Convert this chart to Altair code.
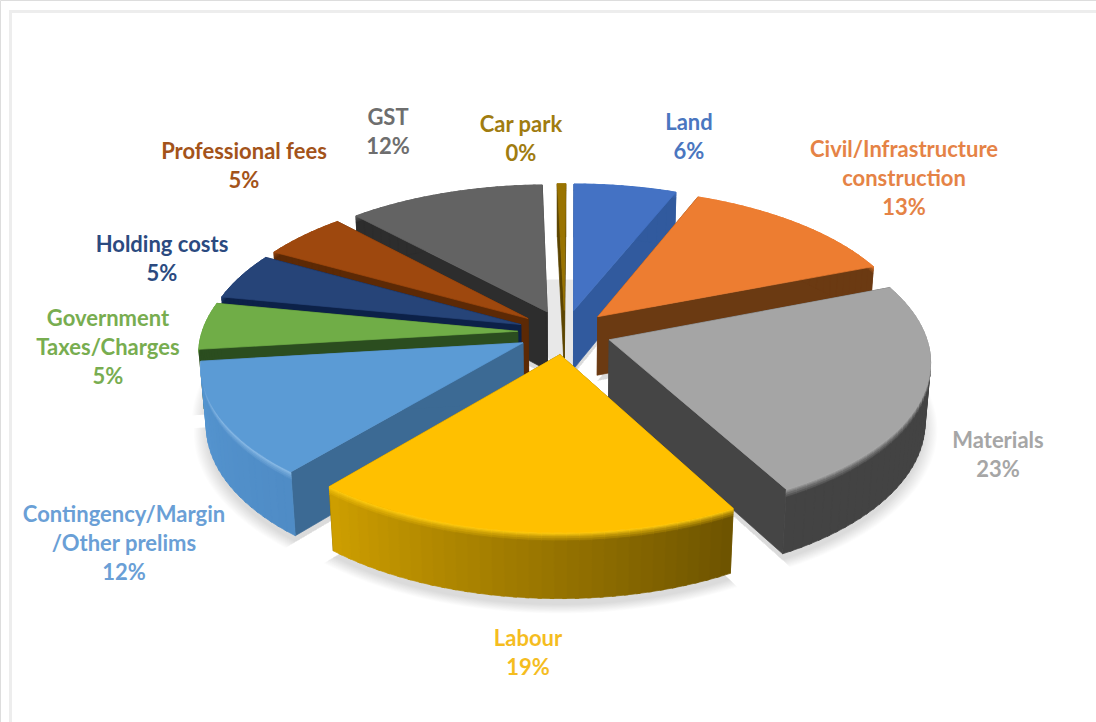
import altair as alt
import numpy as np

# Cost breakdown, in percent of the total, clockwise from twelve o'clock
categories = ["Land", "Civil/Infrastructure construction", "Materials", "Labour",
              "Contingency/Margin /Other prelims", "Government Taxes/Charges",
              "Holding costs", "Professional fees", "GST", "Car park"]
values = [6, 13, 23, 19, 12, 5, 5, 5, 11.5, 0.49]

# Label wording, broken over lines
label_lines = [["Land"], ["Civil/Infrastructure", "construction"], ["Materials"], ["Labour"],
               ["Contingency/Margin", "/Other prelims"], ["Government", "Taxes/Charges"],
               ["Holding costs"], ["Professional fees"], ["GST"], ["Car park"]]
label_x = [689, 904, 998, 528, 124, 108, 162, 244, 388, 521]
label_top = [123, 150, 441, 639, 515, 319, 245, 152, 118, 125]
label_colors = ["#4a76c0", "#e58346", "#a6a6a6", "#f5bd1f", "#6a9fd6", "#78ad50",
                "#2b4a80", "#a3531a", "#6e6e6e", "#a07c10"]

# Face colours per slice
top_colors = ["#4472c4", "#ed7d31", "#a5a5a5", "#ffc000", "#5b9bd5", "#70ad47",
              "#264478", "#9e480e", "#636363", "#997300"]
radial_colors = ["#315a9e", "#6b3a12", "#454545", "#7a5c00", "#3c6a94", "#2b4d1f",
                 "#0c2148", "#5c2905", "#2d2d2d", "#5c4500"]
wall_start = ["#315a9e", "#6b3a12", "#434343", "#6e5400", "#4f8cc6", "#2b4d1f",
              "#0c2148", "#5c2905", "#2d2d2d", "#5c4500"]
wall_end = ["#315a9e", "#6b3a12", "#434343", "#cd9e00", "#5595d0", "#2b4d1f",
            "#0c2148", "#5c2905", "#2d2d2d", "#5c4500"]
rim_colors = ["#4472c4", "#ed7d31", "#a5a5a5", "#ffcb10", "#8fbee8", "#70ad47",
              "#264478", "#9e480e", "#636363", "#997300"]
paint_order = [8, 9, 0, 7, 1, 6, 5, 2, 4, 3]

# Camera and pie solid
CENTER_X, CENTER_Y, SCALE = 564.7, 332.1, 315.7
TILT, CAMERA, THICKNESS, TURN, EXPLODE = 0.49, 6.754, 0.215, 0.3, 0.149

shares = np.array(values, float)
sweep = shares / shares.sum() * 360
starts = np.concatenate([[0], np.cumsum(sweep)[:-1]])
ends = np.cumsum(sweep)


def project(i, r, a, z, grow=1.0, explode=EXPLODE):
    mid = np.radians((starts[i] + ends[i]) / 2 + TURN)
    a = np.radians(a + TURN)
    X = explode * np.sin(mid) + grow * r * np.sin(a)
    Y = explode * np.cos(mid) + grow * r * np.cos(a)
    Z = -THICKNESS * z
    D = CAMERA + Y * np.cos(TILT) - Z * np.sin(TILT)
    return [float(CENTER_X + SCALE * X * CAMERA / D),
            float(CENTER_Y - SCALE * (Y * np.sin(TILT) + Z * np.cos(TILT)) * CAMERA / D)]


def mix(c1, c2, t):
    a = [int(c1[k:k + 2], 16) for k in (1, 3, 5)]
    b = [int(c2[k:k + 2], 16) for k in (1, 3, 5)]
    return "#%02x%02x%02x" % tuple(round(p + (q - p) * t) for p, q in zip(a, b))


def face(points, fill, opacity=1.0):
    ring = points + [points[0]]
    return {"type": "Feature", "geometry": {"type": "Polygon", "coordinates": [ring]},
            "properties": {"fill": fill, "op": opacity}}


def arc_angles(i, step=2.0):
    n = max(2, int(np.ceil(sweep[i] / step)) + 1)
    return np.linspace(starts[i], ends[i], n)


# Soft contact shadow on the ground plane, built from stacked translucent wedges
shadow = []
for grow in np.linspace(1.04, 1.0, 12):
    for i in paint_order:
        pts = [project(i, 0, 0, 1.1, grow)] + [project(i, 1, a, 1.1, grow) for a in arc_angles(i)]
        shadow.append(face(pts, "#000000", 0.01))

# Ambient shade visible through the gap behind the centre of the pie
hub_angles = np.linspace(-14, 14, 9)
hub_shade = [face([project(9, 0, 0, 1.0, 1.0, 0.0)] +
                  [project(9, 0.8, a, 1.0, 1.0, 0.0) for a in hub_angles], "#000000", 0.09)]

# Bands of the curved wall, from the bevelled rim down to the base
bands = [0, 0.02, 0.04, 0.06, 0.09, 0.12, 1]
solid = []
for i in paint_order:
    for a in (starts[i], ends[i]):
        solid.append(face([project(i, 0, 0, 0), project(i, 1, a, 0),
                           project(i, 1, a, 1), project(i, 0, 0, 1)], radial_colors[i]))
    angles = arc_angles(i)
    for k in range(len(angles) - 1):
        base = mix(wall_start[i], wall_end[i], k / max(1, len(angles) - 2))
        # each cell runs slightly under its neighbour so no seam opens between them
        a0, a1 = angles[k], min(angles[k + 1] + 0.6, ends[i])
        for b in range(len(bands) - 1):
            t = min(1.0, b / (len(bands) - 2))
            lower = min(bands[b + 1] + 0.01, 1)
            solid.append(face([project(i, 1, a0, bands[b]), project(i, 1, a1, bands[b]),
                               project(i, 1, a1, lower), project(i, 1, a0, lower)],
                              mix(rim_colors[i], base, t)))
    solid.append(face([project(i, 0, 0, 0)] + [project(i, 1, a, 0) for a in angles], top_colors[i]))

# One row per printed line of the labels
LINE_STEP = 29
label_rows = []
for name, lines, x, top, color, v in zip(categories, label_lines, label_x, label_top, label_colors, values):
    for n, line in enumerate(lines + [f"{v:.0f}%"]):
        label_rows.append({"lon": x, "lat": top + n * LINE_STEP, "text": line, "color": color})

flat = dict(type="identity", scale=1, translate=[0, 0])

shadow_layer = alt.Chart(alt.Data(values=hub_shade + shadow)).mark_geoshape(strokeWidth=0).encode(
    fill=alt.Fill("properties.fill:N", scale=None),
    fillOpacity=alt.FillOpacity("properties.op:Q", scale=None),
).project(**flat)

solid_layer = alt.Chart(alt.Data(values=solid)).mark_geoshape(strokeWidth=0.7, strokeJoin="round").encode(
    fill=alt.Fill("properties.fill:N", scale=None),
    stroke=alt.Stroke("properties.fill:N", scale=None),
).project(**flat)

label_layer = alt.Chart(alt.Data(values=label_rows)).mark_text(
    font="Lato", fontWeight="bold", fontSize=22, baseline="middle", align="center"
).encode(
    longitude="lon:Q", latitude="lat:Q", text="text:N",
    color=alt.Color("color:N", scale=None),
).project(**flat)

frame_top = alt.Chart(alt.Data(values=[{"k": 1}])).mark_rule(color="#ededed", strokeWidth=3).encode(
    x=alt.value(9), x2=alt.value(1096), y=alt.value(11.5))
frame_left = alt.Chart(alt.Data(values=[{"k": 1}])).mark_rule(color="#ededed", strokeWidth=3).encode(
    x=alt.value(10.5), y=alt.value(10), y2=alt.value(722))

chart = alt.layer(frame_top, frame_left, shadow_layer, solid_layer, label_layer).properties(
    width=1096, height=722, padding=0, autosize=alt.AutoSizeParams(type="none")
).configure_view(stroke=None).configure(background="#ffffff")

chart.save("out.html", embed_options={"renderer": "svg", "actions": False})
